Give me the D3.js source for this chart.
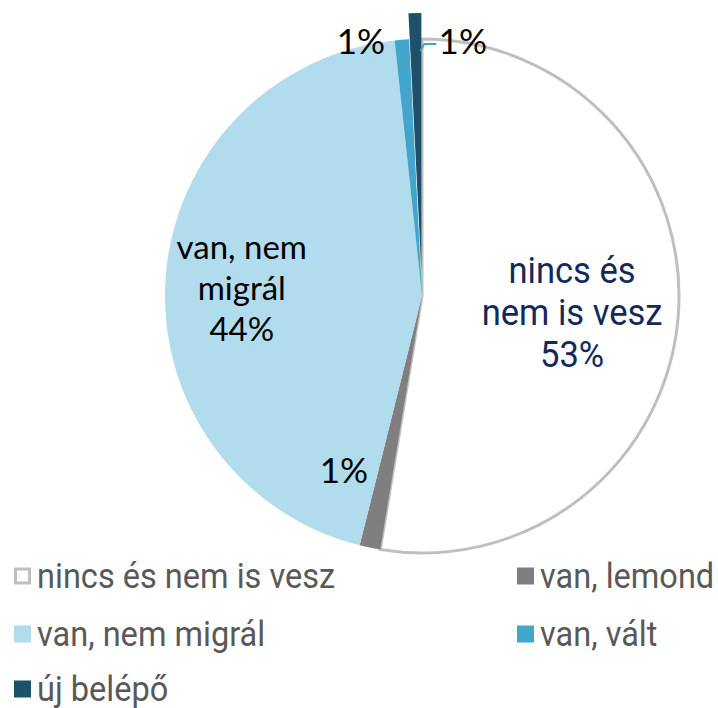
<!DOCTYPE html>
<html>
<head>
<meta charset="utf-8">
<script src="https://cdn.jsdelivr.net/npm/d3@7"></script>
<style>
  body { margin: 0; background: #fff; }
  svg { display: block; }
</style>
</head>
<body>
<div id="chart"></div>
<script>
// slice categories, clockwise from 12 o'clock
const categories = ['nincs és nem is vesz', 'van, lemond', 'van, nem migrál', 'van, vált', 'új belépő'];
const values = [52.6, 1.3, 44.4, 0.9, 0.8];
const labels = ['53%', '1%', '44%', '1%', '1%'];
const colors = ['#ffffff', '#7f7f7f', '#b1dced', '#42a6cc', '#1d5069'];

const width = 718, height = 708;
const cx = 422, cy = 296, radius = 257;
const explode = 26; // új belépő pulled out

const svg = d3.select('#chart').append('svg')
  .attr('width', width)
  .attr('height', height);

const pie = d3.pie().sort(null).value(d => d.value);
const arc = d3.arc().innerRadius(0).outerRadius(radius);

const data = categories.map((name, i) => ({ name, value: values[i], label: labels[i], color: colors[i] }));
const arcs = pie(data);

const g = svg.append('g').attr('transform', `translate(${cx},${cy})`);

function offset(d) {
  if (d.index !== 4) return [0, 0];
  const a = (d.startAngle + d.endAngle) / 2;
  return [Math.sin(a) * explode, -Math.cos(a) * explode];
}

g.selectAll('path.slice')
  .data(arcs)
  .enter()
  .append('path')
  .attr('class', 'slice')
  .attr('d', arc)
  .attr('transform', d => `translate(${offset(d)})`)
  .attr('fill', d => d.data.color)
  .attr('stroke', d => d.index === 0 ? '#bfbfbf' : 'none')
  .attr('stroke-width', 3)
  .attr('stroke-linejoin', 'round');

// label placement relative to centroids
const narrow = 'Roboto, sans-serif';
const calib = 'Lato, sans-serif';
const labelArc = d3.arc().innerRadius(radius * 0.5).outerRadius(radius * 0.5);
const labelLayout = [
  { dx: 22, dy: 6, lines: ['nincs és', 'nem is vesz'], color: '#13295b', font: narrow, size: 36, sx: 0.96, lh: 42 },
  { dx: -52, dy: 47, lines: [], color: '#000', font: calib, size: 35, sx: 1, lh: 41 },
  { dx: -52, dy: 0, lines: ['van, nem', 'migrál'], color: '#000', font: calib, size: 33, sx: 1, lh: 41 },
  { dx: -51, dy: -128, lines: [], color: '#000', font: calib, size: 35, sx: 1, lh: 41 },
  { dx: 44, dy: -128, lines: [], color: '#000', font: calib, size: 35, sx: 1, lh: 41 }
];

arcs.forEach((d, i) => {
  const L = labelLayout[i];
  const [x, y] = labelArc.centroid(d);
  const lines = L.lines.concat([d.data.label]);
  const t = g.append('g')
    .attr('transform', `translate(${x + L.dx},${y + L.dy - (lines.length - 1) * L.lh / 2}) scale(${L.sx},1)`)
    .append('text')
    .attr('text-anchor', 'middle')
    .attr('dominant-baseline', 'central')
    .attr('fill', L.color)
    .style('font-family', L.font)
    .style('font-size', L.size + 'px');
  lines.forEach((ln, k) => {
    t.append('tspan').attr('x', 0).attr('dy', k === 0 ? 0 : L.lh).text(ln);
  });
});

// leader line for új belépő
{
  const d = arcs[4];
  const [ox, oy] = offset(d);
  const a = d.endAngle - 0.004;
  const p0 = [Math.sin(a) * (radius - 2) + ox, -Math.cos(a) * (radius - 2) + oy + 36];
  const p1 = [p0[0] + 4, p0[1] - 7];
  const p2 = [p1[0] + 12, p1[1]];
  g.append('polyline')
    .attr('points', [p0, p1, p2].map(p => p.join(',')).join(' '))
    .attr('fill', 'none')
    .attr('stroke', '#42a6cc')
    .attr('stroke-width', 2);
}

// legend
const legendCols = [14, 517];
const legendRows = [576, 634, 689];
const legend = svg.append('g');
data.forEach((d, i) => {
  const x = legendCols[i % 2], y = legendRows[Math.floor(i / 2)];
  const item = legend.append('g').attr('transform', `translate(${x},${y})`);
  item.append('rect')
    .attr('x', i === 0 ? 1.5 : 0)
    .attr('y', i === 0 ? -7 : -8.5)
    .attr('width', i === 0 ? 14 : 17)
    .attr('height', i === 0 ? 14 : 17)
    .attr('fill', d.color)
    .attr('stroke', i === 0 ? '#bfbfbf' : 'none')
    .attr('stroke-width', 3);
  item.append('g')
    .attr('transform', 'translate(23,0) scale(0.93,1)')
    .append('text')
    .attr('dominant-baseline', 'central')
    .attr('fill', '#595959')
    .style('font-family', narrow)
    .style('font-size', '35px')
    .text(d.name);
});
</script>
</body>
</html>
